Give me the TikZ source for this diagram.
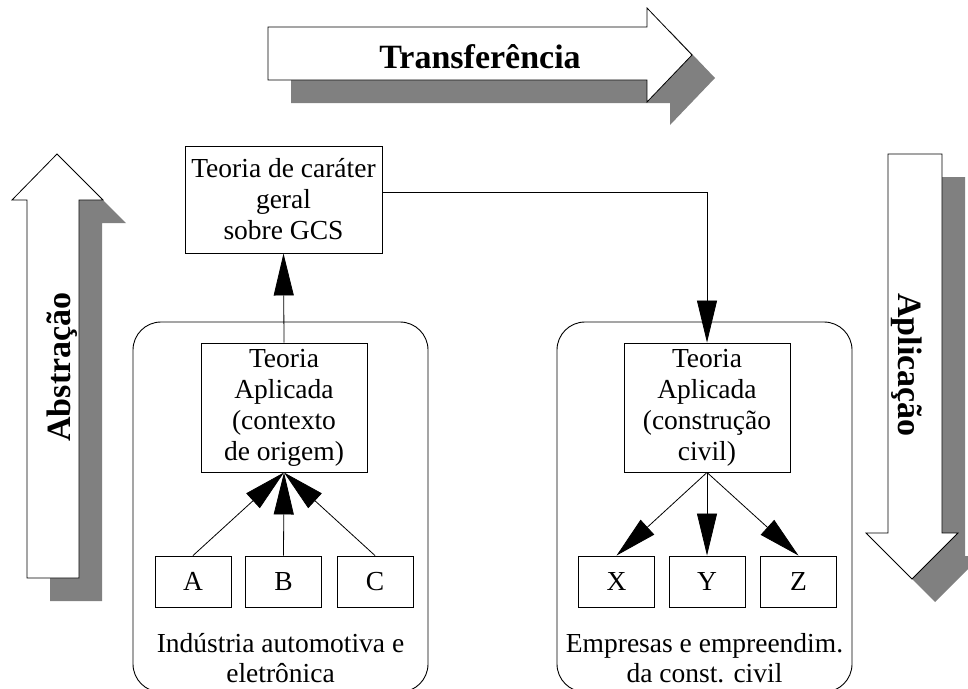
\documentclass[tikz,border=0pt]{standalone}
\usepackage{fontspec}
\setmainfont{Liberation Serif}
\usetikzlibrary{arrows.meta,calc}
\definecolor{shadowc}{HTML}{808080}
\begin{document}
\begin{tikzpicture}[x=1pt,y=-1pt,
  bigarrow/.style={fill=white, draw=black, line width=0.8pt, line join=miter},
  bigtxt/.style={font=\fontsize{34}{40}\selectfont\bfseries, inner sep=0pt},
  box/.style={draw=black, line width=0.9pt, fill=white, align=center, inner sep=0pt, font=\fontsize{27.5}{31}\selectfont},
  container/.style={draw=black, line width=0.9pt, rounded corners=28pt, inner sep=0pt},
  txt/.style={font=\fontsize{27.5}{31}\selectfont, inner sep=0pt},
  arr/.style={draw=black, line width=0.8pt, -{Triangle[length=42pt,width=20pt]}}
]
\useasboundingbox (0,0) rectangle (968,688);

% ---- big arrows: shadows ----
\fill[shadowc, shift={(23,23)}] (268,27) -- (647,27) -- (647,8) -- (692,55) -- (647,102) -- (647,80) -- (268,80) -- cycle;
\fill[shadowc, shift={(23,23)}] (27,578) -- (27,200) -- (12,200) -- (57,154) -- (103,200) -- (79,200) -- (79,578) -- cycle;
\fill[shadowc, shift={(23,23)}] (888,154) -- (942,154) -- (942,533) -- (958,533) -- (912,579) -- (866,533) -- (888,533) -- cycle;

% ---- big arrows: white bodies ----
\draw[bigarrow] (268,27) -- (647,27) -- (647,8) -- (692,55) -- (647,102) -- (647,80) -- (268,80) -- cycle;
\draw[bigarrow] (27,578) -- (27,200) -- (12,200) -- (57,154) -- (103,200) -- (79,200) -- (79,578) -- cycle;
\draw[bigarrow] (888,154) -- (942,154) -- (942,533) -- (958,533) -- (912,579) -- (866,533) -- (888,533) -- cycle;

\node[bigtxt, anchor=base] (transT) at (480,68) {Transferência};
\node[bigtxt, rotate=90, anchor=base] (absT) at (70,367) {Abstração};
\node[bigtxt, rotate=-90, anchor=base] (aplT) at (898,365) {Aplicação};

% ---- containers ----
\node[container, minimum width=295pt, minimum height=370pt] (ctxL) at (280.5,507) {};
\node[container, minimum width=295pt, minimum height=370pt] (ctxR) at (704.5,507) {};

% ---- boxes ----
\node[box, minimum width=197pt, minimum height=107pt] (gen) at (283.5,199.5) {Teoria de caráter\\geral\\sobre GCS};
\node[box, minimum width=166pt, minimum height=129pt] (TAL) at (284,407.5) {Teoria\\Aplicada\\(contexto\\de origem)};
\node[box, minimum width=166pt, minimum height=129pt] (TAR) at (707,407.5) {Teoria\\Aplicada\\(construção\\civil)};

\node[box, minimum width=76pt, minimum height=51pt] (A) at (193,581.5) {A};
\node[box, minimum width=76pt, minimum height=51pt] (B) at (283.5,581.5) {B};
\node[box, minimum width=76pt, minimum height=51pt] (C) at (375,581.5) {C};
\node[box, minimum width=76pt, minimum height=51pt] (X) at (616.5,581.5) {X};
\node[box, minimum width=76pt, minimum height=51pt] (Y) at (707,581.5) {Y};
\node[box, minimum width=76pt, minimum height=51pt] (Z) at (798.5,581.5) {Z};

% ---- container labels ----
\node[txt, anchor=base] (lblL1) at (280.5,652) {Indústria automotiva e};
\node[txt, anchor=base] (lblL2) at (280.5,682) {eletrônica};
\node[txt, anchor=base] (lblR1) at (704.5,652) {Empresas e empreendim.};
\node[txt, anchor=base] (lblR2) at (704.5,682) {da const. civil};

% ---- connectors ----
\draw[arr] (A.north) -- (TAL.south);
\draw[arr] (B.north) -- (TAL.south);
\draw[arr] (C.north) -- (TAL.south);
\draw[arr] (TAL.north) -- (gen.south);
\draw[arr] ([yshift=7.5pt]gen.east) -| (TAR.north);
\draw[arr] (TAR.south) -- (X.north);
\draw[arr] (TAR.south) -- (Y.north);
\draw[arr] (TAR.south) -- (Z.north);
\end{tikzpicture}
\end{document}
